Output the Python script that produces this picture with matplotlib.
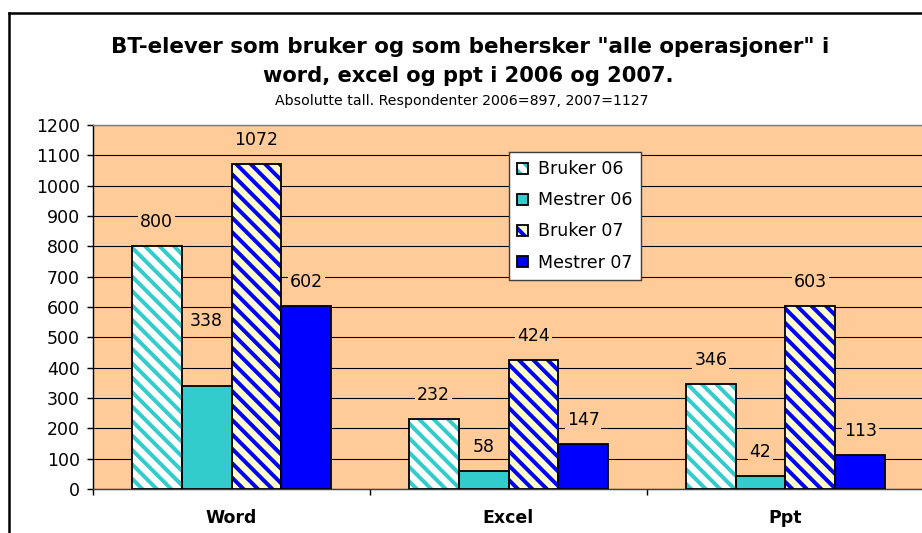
import matplotlib
matplotlib.use("Agg")
import matplotlib.pyplot as plt
from matplotlib.patches import Patch
from matplotlib.lines import Line2D
import numpy as np

# data
categories = ['Word', 'Excel', 'Ppt']
series_names = ['Bruker 06', 'Mestrer 06', 'Bruker 07', 'Mestrer 07']
bruker_06 = [800, 232, 346]
mestrer_06 = [338, 58, 42]
bruker_07 = [1072, 424, 603]
mestrer_07 = [602, 147, 113]
y_ticks = list(range(0, 1201, 100))

title_1 = 'BT-elever som bruker og som behersker "alle operasjoner" i'
title_2 = 'word, excel og ppt i 2006 og 2007.'
subtitle = 'Absolutte tall. Respondenter 2006=897, 2007=1127'

DPI = 130
W, H = 922, 533


def pt(px):
    # pixel -> point at this dpi
    return px * 72 / DPI


plt.rcParams['font.family'] = ['DejaVu Sans']
plt.rcParams['hatch.linewidth'] = 2.2

# face colour, hatch colour, hatch pattern
stripes = '\\' * 3
styles = [
    ('white', '#33CCCC', stripes),
    ('#33CCCC', '#33CCCC', None),
    ('#FFFFCC', '#0000FF', stripes),
    ('#0000FF', '#0000FF', None),
]
# extra label lift (px) where the label was moved in the original
label_lift = {(1, 0): 65}

fig = plt.figure(figsize=(W / DPI, H / DPI), dpi=DPI)
ax = fig.add_axes([93 / W, 44 / H, 831 / W, 364 / H])
ax.set_facecolor('#FFCC99')

all_series = [bruker_06, mestrer_06, bruker_07, mestrer_07]
x = np.arange(len(categories))
bw = 0.18
handles = []
for i, (vals, (face, hcol, hatch)) in enumerate(zip(all_series, styles)):
    pos = x + (i - 1.5) * bw
    ax.bar(pos, vals, bw, color=face, edgecolor=hcol, hatch=hatch, linewidth=0, zorder=3)
    ax.bar(pos, vals, bw, fill=False, edgecolor='black', linewidth=1.0, zorder=4)
    for j, v in enumerate(vals):
        lift = label_lift.get((i, j), 24)
        ax.annotate(str(v), (pos[j], v), xytext=(0, pt(lift)), textcoords='offset points',
                    ha='center', va='center', fontsize=pt(17.4), zorder=5,
                    bbox=dict(boxstyle='square,pad=0.1', fc='#FFCC99', ec='none'))
    h1 = Patch(facecolor=face, edgecolor=hcol, hatch=hatch, linewidth=0)
    h2 = Patch(fill=False, edgecolor='black', linewidth=1.0)
    handles.append((h1, h2))

ax.set_xlim(-0.5, 2.5)
ax.set_ylim(0, 1200)
ax.set_yticks(y_ticks)
ax.yaxis.grid(True, color='black', linewidth=0.6, zorder=1)
ax.set_axisbelow(True)
ax.tick_params(axis='y', length=pt(6), width=0.8, pad=pt(7), labelsize=pt(17.4))

ax.set_xticks(x)
ax.set_xticklabels(categories, fontweight='bold', fontsize=pt(17.4))
ax.set_xticks([-0.5, 0.5, 1.5, 2.5], minor=True)
ax.tick_params(axis='x', which='major', length=0, pad=pt(20))
ax.tick_params(axis='x', which='minor', length=pt(6), width=0.8)

ax.spines['top'].set_color('#808080')
ax.spines['right'].set_visible(False)
ax.spines['left'].set_color('black')
ax.spines['bottom'].set_color('#404040')

leg = ax.legend(handles, series_names, loc='upper left',
                bbox_to_anchor=(500 / W, 1 - 143 / H), bbox_transform=fig.transFigure,
                fontsize=pt(17.4), handlelength=0.6, handleheight=0.6,
                handletextpad=0.6, labelspacing=0.75, borderpad=0.5,
                fancybox=False, framealpha=1, edgecolor='#404040')
leg.get_frame().set_linewidth(0.8)
leg.set_zorder(6)

fig.text(470 / W, 1 - 47 / H, title_1, ha='center', va='center',
         fontsize=pt(21.4), fontweight='bold')
fig.text(468 / W, 1 - 76 / H, title_2, ha='center', va='center',
         fontsize=pt(21), fontweight='bold')
fig.text(462 / W, 1 - 101 / H, subtitle, ha='center', va='center', fontsize=pt(14.1))

# chart area border (cropped on the right and bottom)
fig.add_artist(Line2D([9 / W, 1], [1 - 13 / H, 1 - 13 / H], transform=fig.transFigure,
                      color='black', linewidth=pt(2.5)))
fig.add_artist(Line2D([9 / W, 9 / W], [0, 1 - 13 / H], transform=fig.transFigure,
                      color='black', linewidth=pt(2.5)))

fig.savefig('out.png', dpi=DPI)
plt.close()
